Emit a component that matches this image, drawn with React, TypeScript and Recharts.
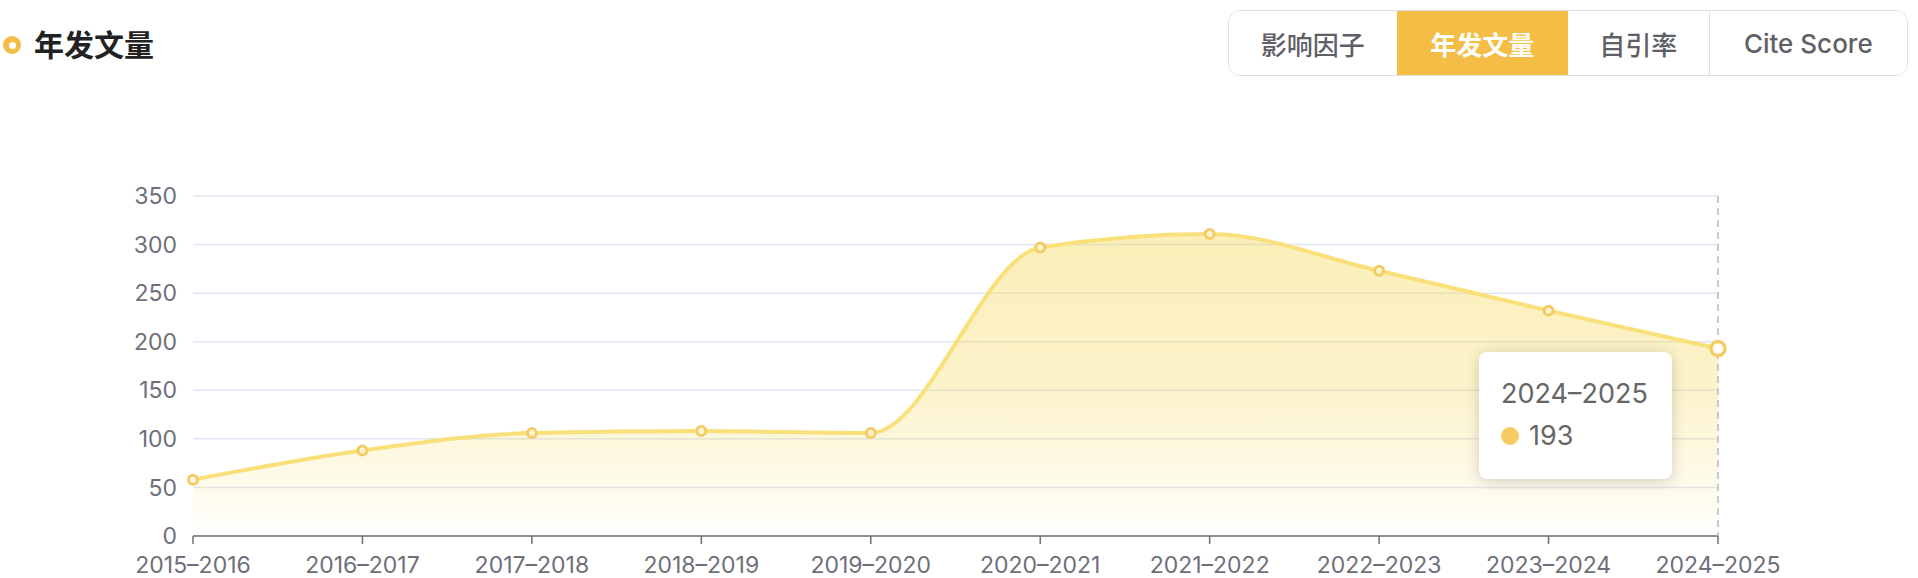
import React from "react";
import {
  AreaChart,
  Area,
  XAxis,
  YAxis,
  CartesianGrid,
  Tooltip,
} from "recharts";

const years = [
  "2015–2016",
  "2016–2017",
  "2017–2018",
  "2018–2019",
  "2019–2020",
  "2020–2021",
  "2021–2022",
  "2022–2023",
  "2023–2024",
  "2024–2025",
];
const articles = [58, 88, 106, 108, 106, 297, 311, 273, 232, 193];
const yTicks = [0, 50, 100, 150, 200, 250, 300, 350];
const tabs = ["影响因子", "年发文量", "自引率", "Cite Score"];
const activeTab = "年发文量";

const data = years.map((year, i) => ({ year, value: articles[i] }));

const FONT = "Inter, 'Noto Sans CJK SC', 'Noto Sans', sans-serif";
const YELLOW = "#F4BD45";

const CustomTooltip = ({ active, payload, label }: any) => {
  if (active && payload && payload.length) {
    return (
      <div
        style={{
          width: 193,
          height: 127,
          boxSizing: "border-box",
          background: "#fff",
          borderRadius: 8,
          boxShadow: "0 2px 14px rgba(0,0,0,0.18)",
          padding: "25px 0 0 22px",
          fontFamily: FONT,
          color: "#666",
        }}
      >
        <div style={{ fontSize: 27, lineHeight: "34px" }}>{label}</div>
        <div
          style={{
            display: "flex",
            alignItems: "center",
            fontSize: 27,
            lineHeight: "34px",
            marginTop: 8,
          }}
        >
          <span
            style={{
              width: 18,
              height: 18,
              borderRadius: "50%",
              background: "#F5CC63",
              display: "inline-block",
              marginRight: 10,
            }}
          />
          {payload[0].value}
        </div>
      </div>
    );
  }
  return null;
};

const App = () => {
  const tabWidths = [168, 172, 141, 199];
  return (
    <div
      style={{
        position: "absolute",
        left: 0,
        top: 0,
        width: 1918,
        height: 578,
        background: "#fff",
        fontFamily: FONT,
        overflow: "hidden",
      }}
    >
      <AreaChart
        width={1918}
        height={578}
        data={data}
        margin={{ top: 196, right: 200, bottom: 0, left: 0 }}
      >
        <defs>
          <linearGradient id="areaFill" x1="0" y1="0" x2="0" y2="1">
            <stop offset="0%" stopColor="#F5D650" stopOpacity={0.68} />
            <stop offset="50%" stopColor="#F5D650" stopOpacity={0.5} />
            <stop offset="100%" stopColor="#F5D650" stopOpacity={0.03} />
          </linearGradient>
        </defs>
        <CartesianGrid vertical={false} stroke="#E0E6F1" strokeWidth={1.5} />
        <XAxis
          dataKey="year"
          axisLine={{ stroke: "#6E7079", strokeWidth: 1.5 }}
          tickLine={{ stroke: "#6E7079", strokeWidth: 1.5 }}
          tickSize={8}
          tickMargin={13}
          interval={0}
          height={42}
          tick={{ fill: "#6E7079", fontSize: 23, fontFamily: FONT }}
        />
        <YAxis
          domain={[0, 350]}
          ticks={yTicks}
          axisLine={false}
          tickLine={false}
          tickSize={0}
          tickMargin={16}
          width={193}
          tick={{ fill: "#6E7079", fontSize: 23, fontFamily: FONT }}
        />
        <Tooltip
          defaultIndex={9}
          active
          position={{ x: 1479, y: 352 }}
          content={<CustomTooltip />}
          cursor={{ stroke: "#B4B8C8", strokeWidth: 1.5, strokeDasharray: "7 5" }}
          wrapperStyle={{ outline: "none" }}
          isAnimationActive={false}
        />
        <Area
          type="monotone"
          dataKey="value"
          stroke="#F9E07A"
          strokeWidth={4}
          fill="url(#areaFill)"
          dot={{ r: 4.5, stroke: "#F5CC63", strokeWidth: 3, fill: "#fff" }}
          activeDot={{ r: 7, stroke: "#F5CC63", strokeWidth: 3.5, fill: "#fff" }}
          isAnimationActive={false}
        />
      </AreaChart>

      <div
        style={{
          position: "absolute",
          left: 3,
          top: 36,
          width: 18,
          height: 18,
          borderRadius: "50%",
          background: YELLOW,
          display: "flex",
          alignItems: "center",
          justifyContent: "center",
        }}
      >
        <div style={{ width: 7, height: 7, borderRadius: "50%", background: "#fff" }} />
      </div>
      <div
        style={{
          position: "absolute",
          left: 34,
          top: 23,
          fontSize: 30,
          lineHeight: "40px",
          fontWeight: 700,
          color: "#222",
          fontFamily: "'Noto Sans CJK SC', sans-serif",
        }}
      >
        年发文量
      </div>

      <div
        style={{
          position: "absolute",
          left: 1228,
          top: 10,
          width: 680,
          height: 66,
          boxSizing: "border-box",
          border: "1.5px solid #DCDFE6",
          borderRadius: 12,
          display: "flex",
          overflow: "hidden",
        }}
      >
        {tabs.map((t, i) => {
          const on = t === activeTab;
          return (
            <div
              key={t}
              style={{
                width: tabWidths[i],
                height: "100%",
                display: "flex",
                alignItems: "center",
                justifyContent: "center",
                background: on ? YELLOW : "#fff",
                color: on ? "#fff" : "#5f6066",
                fontSize: 26,
                fontWeight: on ? 700 : 500,
                borderLeft: i === 3 ? "1.5px solid #DCDFE6" : "none",
                boxSizing: "border-box",
                fontFamily: "Inter, 'Noto Sans CJK SC', sans-serif",
              }}
            >
              {t}
            </div>
          );
        })}
      </div>
    </div>
  );
};

export default App;
